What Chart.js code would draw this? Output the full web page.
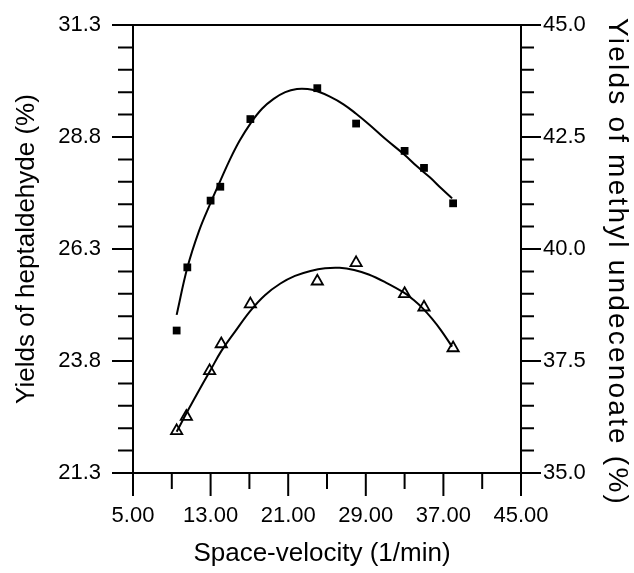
<!DOCTYPE html>
<html>
<head>
<meta charset="utf-8">
<script src="https://cdn.jsdelivr.net/npm/chart.js@4.4.1/dist/chart.umd.min.js"></script>
<style>
  html, body { margin: 0; padding: 0; background: #fff; }
  #myChart { display: block; }
</style>
</head>
<body>
<canvas id="myChart" width="634" height="573"></canvas>
<script>
// measured points
const velocity = [9.5, 10.6, 13.0, 14.0, 17.1, 24.0, 28.0, 33.0, 35.0, 38.0];
const heptaldehyde = [24.48, 25.89, 27.38, 27.69, 29.20, 29.89, 29.10, 28.49, 28.11, 27.32];
const velocity2 = [9.5, 10.5, 12.9, 14.1, 17.1, 24.0, 28.0, 33.0, 35.0, 38.0];
const undecenoate = [35.94, 36.26, 37.28, 37.88, 38.77, 39.28, 39.69, 39.00, 38.70, 37.79];

// fitted curves
const heptCurveX = [9.5, 10.6, 11.8, 13.0, 14.0, 15.0, 16.0, 17.1, 18.3, 19.5, 20.7, 21.9, 23.0, 24.0, 25.3, 26.7, 28.0, 29.4, 31.0, 32.9, 34.3, 35.6, 36.8, 37.9];
const heptCurveY = [24.83, 25.88, 26.70, 27.33, 27.82, 28.30, 28.72, 29.10, 29.43, 29.65, 29.80, 29.87, 29.87, 29.82, 29.70, 29.53, 29.32, 29.07, 28.76, 28.42, 28.14, 27.90, 27.65, 27.43];
const esterCurveX = [9.5, 10.7, 12.0, 13.0, 14.1, 15.5, 17.1, 18.6, 20.2, 21.7, 23.3, 24.8, 26.3, 27.8, 29.3, 30.9, 32.9, 34.0, 34.9, 35.8, 36.7, 37.9];
const esterCurveY = [35.92, 36.41, 36.92, 37.30, 37.72, 38.15, 38.62, 38.97, 39.23, 39.40, 39.51, 39.57, 39.58, 39.53, 39.43, 39.27, 39.03, 38.85, 38.67, 38.45, 38.20, 37.82];

// tick labels
const xTicks = [5, 13, 21, 29, 37, 45];
const leftTicks = [21.3, 23.8, 26.3, 28.8, 31.3];
const rightTicks = [35.0, 37.5, 40.0, 42.5, 45.0];

const FONT = "'Liberation Sans', Arial, Helvetica, sans-serif";

function pts(xs, ys) {
  return xs.map((x, i) => ({ x: x, y: ys[i] }));
}

// keep the tick padding from eating into the plot area
function noEdgePad(s) {
  s.paddingTop = 0; s.paddingBottom = 0;
  s.paddingLeft = 0; s.paddingRight = 0;
}

// box + major/minor tick marks
const tickMarks = {
  id: "tickMarks",
  afterLayout(chart) {
    // the right title in the original is spread out a bit
    const s = chart.scales.y2;
    if (s && !s._spread) {
      const orig = s.drawTitle;
      s.drawTitle = function () {
        this.ctx.save();
        this.ctx.letterSpacing = "2.2px";
        this.ctx.translate(0, 13);
        orig.call(this);
        this.ctx.restore();
      };
      s._spread = true;
    }
    const x = chart.scales.x;
    if (x && !x._shifted) {
      const origT = x.drawTitle;
      x.drawTitle = function () {
        this.ctx.save();
        this.ctx.translate(-5, 0);
        origT.call(this);
        this.ctx.restore();
      };
      x._shifted = true;
    }
  },
  afterDraw(chart) {
    const ctx = chart.ctx;
    const a = chart.chartArea;
    const sx = chart.scales.x, sl = chart.scales.y, sr = chart.scales.y2;
    ctx.save();
    ctx.strokeStyle = "#000";
    ctx.lineWidth = 2;
    ctx.lineCap = "butt";
    ctx.strokeRect(a.left, a.top, a.right - a.left, a.bottom - a.top);
    ctx.beginPath();
    for (let v = 5; v <= 45.001; v += 4) {
      const px = sx.getPixelForValue(v);
      const len = Math.abs((v - 5) % 8) < 0.01 ? 23 : 16;
      ctx.moveTo(px, a.bottom);
      ctx.lineTo(px, a.bottom + len);
    }
    for (let i = 0; i <= 20; i++) {
      const py = sl.getPixelForValue(21.3 + i * 0.5);
      const len = i % 5 === 0 ? 21 : 15;
      ctx.moveTo(a.left, py);
      ctx.lineTo(a.left - len, py);
    }
    for (let i = 0; i <= 20; i++) {
      const py = sr.getPixelForValue(35 + i * 0.5);
      const len = i % 5 === 0 ? 20 : 13;
      ctx.moveTo(a.right, py);
      ctx.lineTo(a.right + len, py);
    }
    ctx.stroke();
    ctx.restore();
  }
};

const myChart = new Chart("myChart", {
  type: "scatter",
  data: {
    datasets: [
      {
        data: pts(velocity, heptaldehyde),
        yAxisID: "y",
        pointStyle: "rect",
        pointRadius: 5.5,
        backgroundColor: "#000",
        borderColor: "#000",
        borderWidth: 0,
        showLine: false,
      },
      {
        data: pts(velocity2, undecenoate),
        yAxisID: "y2",
        pointStyle: "triangle",
        pointRadius: 6.5,
        backgroundColor: "rgba(0,0,0,0)",
        borderColor: "#000",
        borderWidth: 1.8,
        showLine: false,
      },
      {
        data: pts(heptCurveX, heptCurveY),
        yAxisID: "y",
        showLine: true,
        borderColor: "#000",
        borderWidth: 2,
        pointRadius: 0,
        tension: 0.4,
      },
      {
        data: pts(esterCurveX, esterCurveY),
        yAxisID: "y2",
        showLine: true,
        borderColor: "#000",
        borderWidth: 2,
        pointRadius: 0,
        tension: 0.4,
      },
    ],
  },
  options: {
    responsive: false,
    animation: false,
    devicePixelRatio: 1,
    layout: { padding: { top: 25, left: 0, right: 0, bottom: 0 } },
    plugins: {
      legend: { display: false },
      tooltip: { enabled: false },
    },
    scales: {
      x: {
        type: "linear",
        position: "bottom",
        min: 5,
        max: 45,
        afterBuildTicks: (s) => { s.ticks = xTicks.map((v) => ({ value: v })); },
        afterFit: (s) => { s.height = 100; noEdgePad(s); },
        grid: { display: false, drawTicks: false },
        border: { display: false },
        ticks: {
          color: "#000",
          font: { family: FONT, size: 22 },
          padding: 30,
          maxRotation: 0,
          callback: (v) => Number(v).toFixed(2),
        },
        title: {
          display: true,
          text: "Space-velocity (1/min)",
          color: "#000",
          font: { family: FONT, size: 26 },
          padding: { top: 0, bottom: 4 },
        },
      },
      y: {
        type: "linear",
        position: "left",
        min: 21.3,
        max: 31.3,
        afterBuildTicks: (s) => { s.ticks = leftTicks.map((v) => ({ value: v })); },
        afterFit: (s) => { s.width = 133; noEdgePad(s); },
        grid: { display: false, drawTicks: false },
        border: { display: false },
        ticks: {
          color: "#000",
          font: { family: FONT, size: 22 },
          padding: 32,
          callback: (v) => Number(v).toFixed(1),
        },
        title: {
          display: true,
          text: "Yields of heptaldehyde (%)",
          color: "#000",
          font: { family: FONT, size: 26 },
          padding: { top: 11, bottom: 0 },
        },
      },
      y2: {
        type: "linear",
        position: "right",
        min: 35,
        max: 45,
        afterBuildTicks: (s) => { s.ticks = rightTicks.map((v) => ({ value: v })); },
        afterFit: (s) => { s.width = 113; noEdgePad(s); },
        grid: { display: false, drawTicks: false },
        border: { display: false },
        ticks: {
          color: "#000",
          font: { family: FONT, size: 22 },
          padding: 22,
          callback: (v) => Number(v).toFixed(1),
        },
        title: {
          display: true,
          text: "Yields of methyl undecenoate (%)",
          color: "#000",
          font: { family: FONT, size: 28 },
          padding: { top: 0, bottom: 0 },
        },
      },
    },
  },
  plugins: [tickMarks],
});
</script>
</body>
</html>
